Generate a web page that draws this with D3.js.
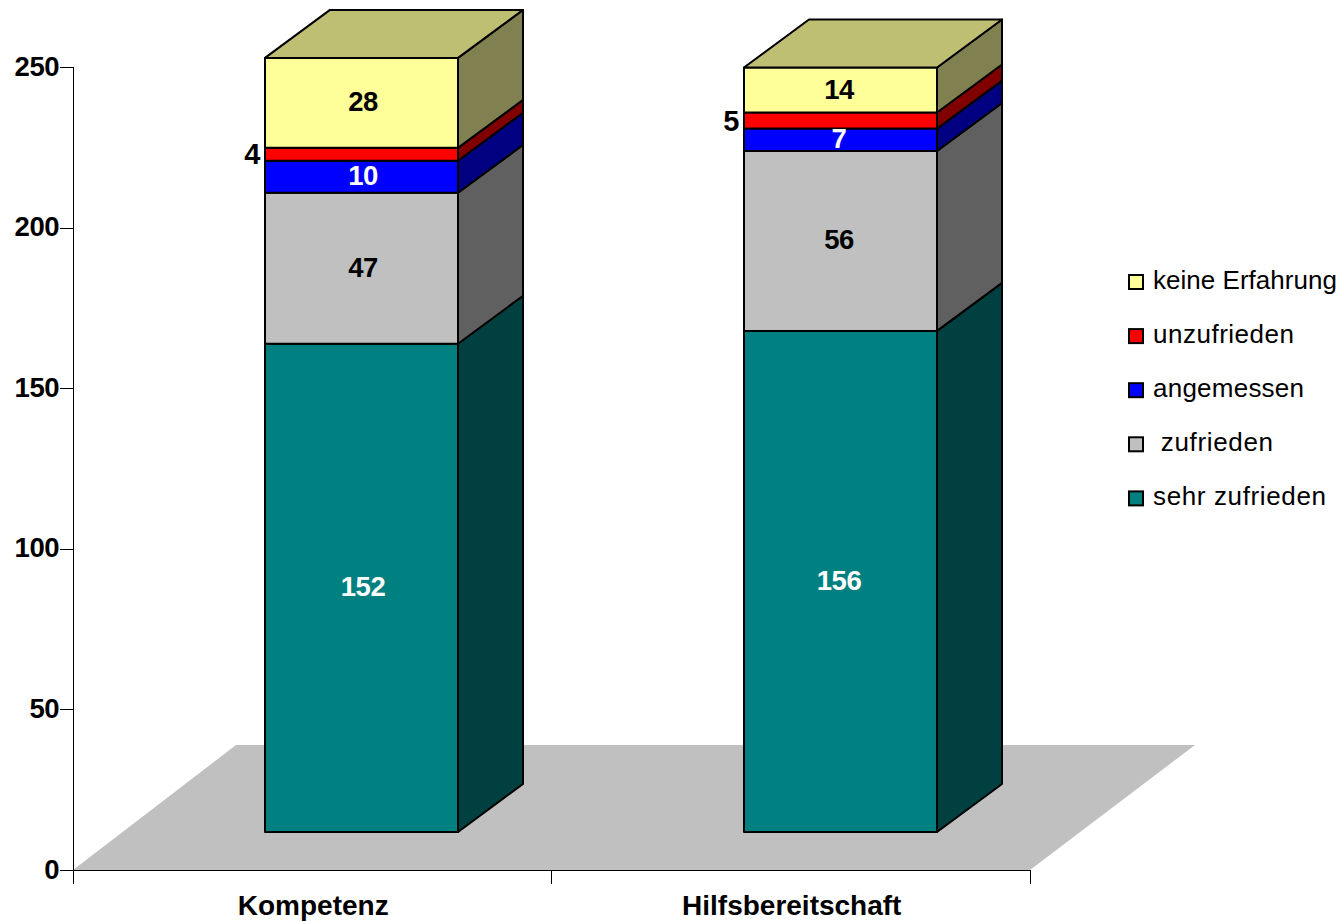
<!DOCTYPE html>
<html><head><meta charset="utf-8">
<script src="https://cdnjs.cloudflare.com/ajax/libs/d3/7.8.5/d3.min.js"></script>
<style>html,body{margin:0;padding:0;background:#fff}svg{display:block}text{font-family:"Liberation Sans",Arial,sans-serif}</style>
</head><body><svg id="c" width="1341" height="921"></svg>
<script>
const categories=["Kompetenz","Hilfsbereitschaft"];
const seriesNames=["sehr zufrieden"," zufrieden","angemessen","unzufrieden","keine Erfahrung"];
const kompetenz=[152,47,10,4,28];
const hilfsbereitschaft=[156,56,7,5,14];
const tickValues=[0,50,100,150,200,250];
const frontColors=["#008080","#C0C0C0","#0000FF","#FF0000","#FFFF99"];
const sideColors=["#004040","#606060","#000080","#800000","#808050"];
const topColor="#BFBF73";
const labelColors=["#fff","#000","#fff","#000","#000"];
const legendTextLengths=[173,120,151,141,184];
const values=[kompetenz,hilfsbereitschaft];
const svg=d3.select("#c");
const y=d3.scaleLinear().domain([0,250]).range([870,67]);
const x=d3.scaleBand().domain(categories).range([73,1030]);
const dx=65,dy=48,floorDx=163;
const line=d3.line();
svg.append("path").attr("d",line([[73,870],[73+floorDx,745],[1030+floorDx+2,745],[1030,870]])+"Z").attr("fill","#C0C0C0");
const ax=svg.append("g").attr("stroke","#000").attr("stroke-width",1).attr("shape-rendering","crispEdges");
ax.append("line").attr("x1",73.5).attr("x2",73.5).attr("y1",y(250)).attr("y2",870);
tickValues.forEach(t=>ax.append("line").attr("x1",60).attr("x2",73).attr("y1",Math.round(y(t))+.5).attr("y2",Math.round(y(t))+.5));
ax.append("line").attr("x1",73).attr("x2",1030).attr("y1",870.5).attr("y2",870.5);
[73,551,1030].forEach(v=>ax.append("line").attr("x1",v+.5).attr("x2",v+.5).attr("y1",870).attr("y2",884));
tickValues.forEach(t=>svg.append("text").attr("x",59).attr("y",y(t)+8.5).attr("text-anchor","end").attr("font-size",27.5).attr("font-weight",700).attr("letter-spacing",-.5).text(t));
categories.forEach(c=>svg.append("text").attr("x",x(c)+x.bandwidth()/2+1).attr("y",915).attr("text-anchor","middle").attr("font-size",28).attr("font-weight",700).text(c));
const barLeft=[265,744],barW=193,lift=38,labelShift=[1.5,-1.5];
categories.forEach((c,i)=>{
 let cum=0; const l=barLeft[i], r=l+barW;
 const g=svg.append("g").attr("stroke","#000").attr("stroke-width",2).attr("stroke-linejoin","round");
 values[i].forEach((v,j)=>{
  const y0=y(cum)-lift, y1=y(cum+v)-lift; cum+=v;
  g.append("path").attr("d",line([[l,y0],[r,y0],[r,y1],[l,y1]])+"Z").attr("fill",frontColors[j]);
  g.append("path").attr("d",line([[r,y0],[r+dx,y0-dy],[r+dx,y1-dy],[r,y1]])+"Z").attr("fill",sideColors[j]);
  const ym=(y0+y1)/2+8.5;
  const small=v<=5;
  svg.append("text").attr("x",small?l-5:(l+r)/2+labelShift[i]).attr("y",small?ym+1.5:ym).attr("text-anchor",small?"end":"middle")
   .attr("font-size",small?29:27.5).attr("font-weight",700).attr("letter-spacing",-.5).attr("fill",small?"#000":labelColors[j]).text(v);
 });
 const t=y(cum)-lift;
 g.append("path").attr("d",line([[l,t],[l+dx,t-dy],[r+dx,t-dy],[r,t]])+"Z").attr("fill",topColor);
});
[...seriesNames].reverse().forEach((n,k)=>{
 const j=seriesNames.length-1-k, cy=282+54.1*k;
 svg.append("rect").attr("x",1129).attr("y",cy-7).attr("width",14).attr("height",14).attr("fill",frontColors[j]).attr("stroke","#000").attr("stroke-width",2);
 svg.append("text").attr("x",1153).attr("y",cy+6.5).attr("font-size",26).attr("textLength",legendTextLengths[j]).attr("lengthAdjust","spacing").style("white-space","pre").text(n);
});
</script></body></html>
